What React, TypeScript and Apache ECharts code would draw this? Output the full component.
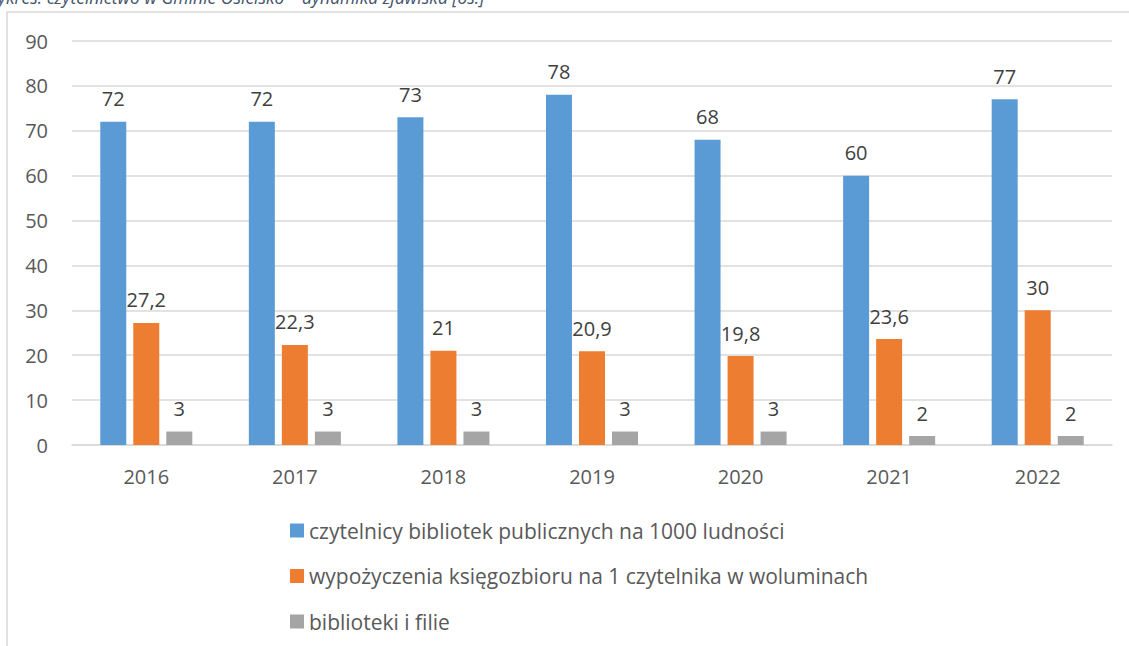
import React, { useEffect, useRef } from "react";
import * as echarts from "echarts";

const categories = ["2016", "2017", "2018", "2019", "2020", "2021", "2022"];
const readers = [72, 72, 73, 78, 68, 60, 77];
const loans = [27.2, 22.3, 21, 20.9, 19.8, 23.6, 30];
const libraries = [3, 3, 3, 3, 3, 2, 2];
const seriesNames = [
  "czytelnicy bibliotek publicznych na 1000 ludności",
  "wypożyczenia księgozbioru na 1 czytelnika w woluminach",
  "biblioteki i filie",
];
const colors = ["#5B9BD5", "#ED7D31", "#A5A5A5"];
const titleText = "Wykres: czytelnictwo w Gminie Osielsko – dynamika zjawiska [os.]";

const FONT = "'Open Sans', 'Liberation Sans', sans-serif";

export default function App() {
  const ref = useRef<HTMLDivElement>(null);
  useEffect(() => {
    if (!ref.current) return;
    const chart = echarts.init(ref.current, undefined, { renderer: "svg" });
    const mk = (name: string, data: number[], color: string) => ({
      name,
      type: "bar",
      data,
      barWidth: 26,
      barGap: "27%",
      itemStyle: { color },
      label: {
        show: true,
        position: "top",
        distance: 13,
        color: "#404040",
        fontSize: 20,
        fontFamily: FONT,
        formatter: (p: any) => String(p.value).replace(".", ","),
      },
    });
    chart.setOption({
      animation: false,
      textStyle: { fontFamily: FONT },
      graphic: [
        {
          type: "rect",
          shape: { x: 7, y: 12, width: 1140, height: 700 },
          style: { fill: "none", stroke: "#d9d9d9", lineWidth: 1.5 },
          silent: true,
        },
        {
          type: "text",
          left: -17,
          top: -12,
          style: {
            text: titleText,
            fill: "#44546A",
            font: "italic 17.5px " + FONT,
          },
        },
      ],
      grid: { left: 72, right: 17, top: 41, height: 404, containLabel: false },
      xAxis: {
        type: "category",
        data: categories,
        axisLine: { lineStyle: { color: "#d9d9d9", width: 1.5 } },
        axisTick: { show: false },
        axisLabel: { color: "#595959", fontSize: 20, margin: 21, fontFamily: FONT },
      },
      yAxis: {
        type: "value",
        min: 0,
        max: 90,
        interval: 10,
        axisLine: { show: false },
        axisTick: { show: false },
        splitLine: { lineStyle: { color: "#d9d9d9", width: 1.5 } },
        axisLabel: { color: "#595959", fontSize: 20, margin: 24, fontFamily: FONT },
      },
      legend: {
        orient: "vertical",
        left: 285,
        top: 515,
        itemWidth: 14,
        itemHeight: 14,
        itemGap: 24.5,
        icon: "rect",
        data: seriesNames,
        textStyle: { color: "#595959", fontSize: 21, fontFamily: FONT, lineHeight: 18 },
      },
      series: [
        mk(seriesNames[0], readers, colors[0]),
        mk(seriesNames[1], loans, colors[1]),
        mk(seriesNames[2], libraries, colors[2]),
      ],
    });
    return () => chart.dispose();
  }, []);
  return (
    <div
      ref={ref}
      style={{ position: "absolute", left: 0, top: 0, width: 1129, height: 646, background: "#fff" }}
    />
  );
}
